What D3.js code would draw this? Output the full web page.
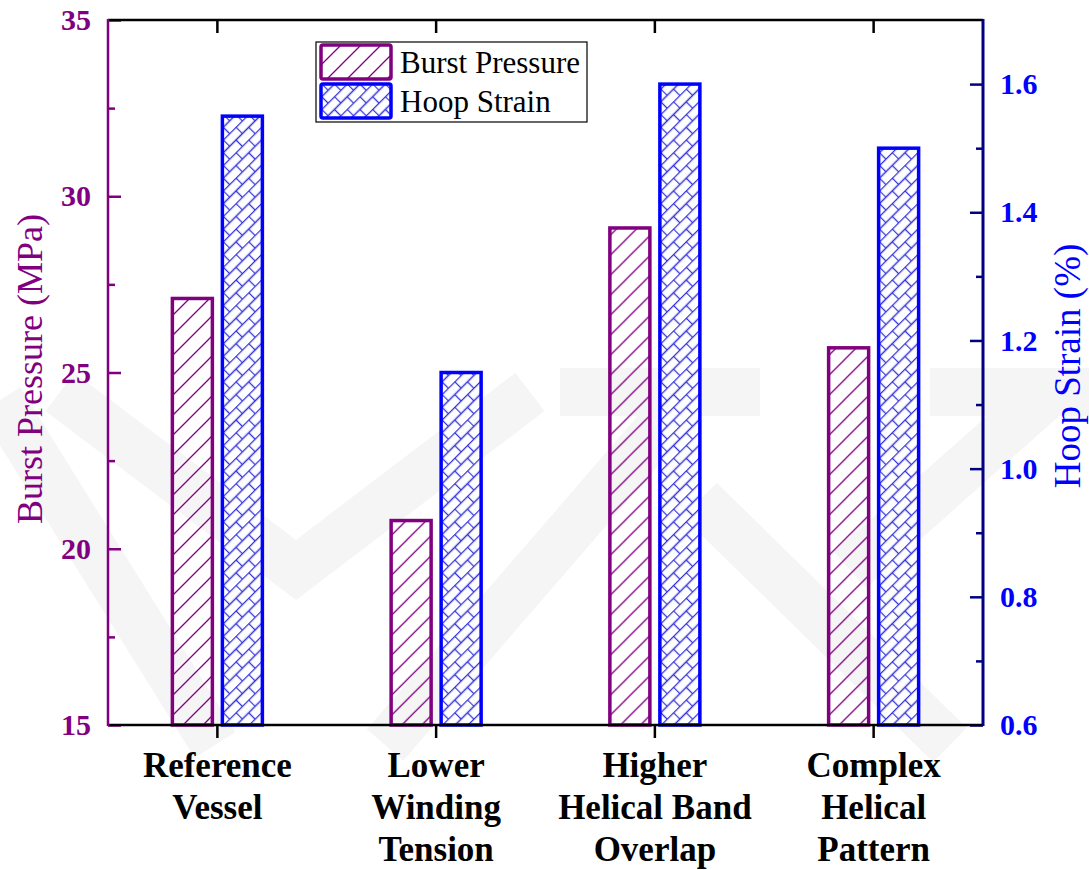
<!DOCTYPE html>
<html>
<head>
<meta charset="utf-8">
<script src="https://cdn.jsdelivr.net/npm/d3@7"></script>
<style>
body { margin: 0; background: #fff; }
svg { display: block; font-family: "Liberation Serif", "Times New Roman", serif; }
</style>
</head>
<body>
<svg id="chart" width="1089" height="870"></svg>
<script>
// data
var categories = [['Reference', 'Vessel'], ['Lower', 'Winding', 'Tension'], ['Higher', 'Helical Band', 'Overlap'], ['Complex', 'Helical', 'Pattern']]
var burst_pressure = [27.1, 20.8, 29.1, 25.7]
var hoop_strain = [1.55, 1.15, 1.6, 1.5]
var series = ['Burst Pressure', 'Hoop Strain']
var left_ticks = [15, 20, 25, 30, 35]
var right_ticks = [0.6, 0.8, 1.0, 1.2, 1.4, 1.6]

var PURPLE = '#800080', BLUE = '#0000ff', NAVY = '#000080'
var margin = {left: 108, right: 106, top: 20, bottom: 145}
var W = 1089, H = 870
var svg = d3.select('#chart')

// faint watermark in the background
svg.append('path')
	.attr('d', 'M0,400L215,745 M60,392L296,570L530,392 M385,745L690,392 M560,392L760,392 M700,500L950,745 M850,570L1050,392 M930,392L1089,392')
	.attr('fill', 'none').attr('stroke', '#f5f5f5').attr('stroke-width', 48)

var x0 = d3.scaleBand().domain(d3.range(categories.length)).range([margin.left, W - margin.right])
var x1 = d3.scaleBand().domain(series).range([x0.bandwidth() / 2 - 45, x0.bandwidth() / 2 + 45]).paddingInner(0.2)
var yl = d3.scaleLinear().domain([15, 35]).range([H - margin.bottom, margin.top])
var yr = d3.scaleLinear().domain([0.6, 1.7]).range([H - margin.bottom, margin.top])

var defs = svg.append('defs')
var p1 = defs.append('pattern').attr('id', 'hatch-burst').attr('patternUnits', 'userSpaceOnUse')
	.attr('width', 20).attr('height', 20)
p1.append('path').attr('d', 'M0,20L20,0 M-5,5L5,-5 M15,25L25,15')
	.attr('stroke', PURPLE).attr('stroke-width', 1.3)
var p2 = defs.append('pattern').attr('id', 'hatch-hoop').attr('patternUnits', 'userSpaceOnUse')
	.attr('width', 18).attr('height', 18).attr('patternTransform', 'rotate(-45)')
p2.append('rect').attr('width', 18).attr('height', 18).attr('fill', '#fff')
p2.append('path').attr('d', 'M0,0.5L18,0.5 M0,9.5L18,9.5 M0.5,0L0.5,9 M9.5,9L9.5,18')
	.attr('stroke', '#3434d8').attr('stroke-width', 1.3)

var groups = svg.selectAll('g.cat').data(categories).enter().append('g')
	.attr('class', 'cat')
	.attr('transform', function(d, i) { return 'translate(' + x0(i) + ',0)' })
groups.append('rect')
	.attr('x', x1('Burst Pressure')).attr('width', x1.bandwidth())
	.attr('y', function(d, i) { return yl(burst_pressure[i]) })
	.attr('height', function(d, i) { return yl(15) - yl(burst_pressure[i]) })
	.attr('fill', 'url(#hatch-burst)').attr('stroke', PURPLE).attr('stroke-width', 3.5)
groups.append('rect')
	.attr('x', x1('Hoop Strain')).attr('width', x1.bandwidth())
	.attr('y', function(d, i) { return yr(hoop_strain[i]) })
	.attr('height', function(d, i) { return yr(0.6) - yr(hoop_strain[i]) })
	.attr('fill', 'url(#hatch-hoop)').attr('stroke', BLUE).attr('stroke-width', 3.5)

// axes
function style_axis(g, color, size, label_color)
{
	g.select('.domain').remove()
	g.selectAll('line').attr('stroke', color).attr('stroke-width', 2.5)
	g.selectAll('text').attr('fill', label_color).attr('font-size', size).attr('font-weight', 'bold')
		.attr('font-family', '"Liberation Serif", "Times New Roman", serif')
}
var minor_l = d3.range(17.5, 35, 5), minor_r = d3.range(0.7, 1.7, 0.2)

svg.append('g').attr('transform', 'translate(' + margin.left + ',0)')
	.call(d3.axisRight(yl).tickValues(minor_l).tickSize(7).tickFormat(''))
	.call(style_axis, PURPLE, 30, PURPLE)
svg.append('g').attr('transform', 'translate(' + margin.left + ',0)')
	.call(d3.axisLeft(yl).tickValues(left_ticks).tickSize(-13).tickPadding(17).tickFormat(d3.format('d')))
	.call(style_axis, PURPLE, 30, PURPLE)
svg.append('g').attr('transform', 'translate(' + (W - margin.right) + ',0)')
	.call(d3.axisLeft(yr).tickValues(minor_r).tickSize(7).tickFormat(''))
	.call(style_axis, NAVY, 30, BLUE)
svg.append('g').attr('transform', 'translate(' + (W - margin.right) + ',0)')
	.call(d3.axisRight(yr).tickValues(right_ticks).tickSize(-13).tickPadding(17).tickFormat(d3.format('.1f')))
	.call(style_axis, NAVY, 30, BLUE)

svg.append('g').attr('transform', 'translate(0,' + (H - margin.bottom) + ')')
	.call(d3.axisBottom(x0).tickSize(13).tickFormat(''))
	.call(style_axis, '#000', 33, '#000')
svg.append('g').attr('transform', 'translate(0,' + margin.top + ')')
	.call(d3.axisBottom(x0).tickSize(13).tickFormat(''))
	.call(style_axis, '#000', 33, '#000')

// category labels, multi-line
var lab = svg.append('g').selectAll('text').data(categories).enter().append('text')
	.attr('x', function(d, i) { return x0(i) + x0.bandwidth() / 2 })
	.attr('y', H - margin.bottom + 52)
	.attr('text-anchor', 'middle').attr('font-size', 35).attr('font-weight', 'bold').attr('fill', '#000')
lab.selectAll('tspan').data(function(d) { return d }).enter().append('tspan')
	.attr('x', function() { return d3.select(this.parentNode).attr('x') })
	.attr('dy', function(d, i) { return i ? 42 : 0 })
	.text(function(d) { return d })

// frame lines
svg.append('line').attr('x1', margin.left).attr('x2', W - margin.right).attr('y1', margin.top).attr('y2', margin.top)
	.attr('stroke', '#000').attr('stroke-width', 2.5)
svg.append('line').attr('x1', margin.left).attr('x2', W - margin.right).attr('y1', H - margin.bottom).attr('y2', H - margin.bottom)
	.attr('stroke', '#000').attr('stroke-width', 2.5)
svg.append('line').attr('x1', margin.left).attr('x2', margin.left).attr('y1', margin.top - 1).attr('y2', H - margin.bottom + 1)
	.attr('stroke', PURPLE).attr('stroke-width', 2.5)
svg.append('line').attr('x1', W - margin.right).attr('x2', W - margin.right).attr('y1', margin.top - 1).attr('y2', H - margin.bottom + 1)
	.attr('stroke', NAVY).attr('stroke-width', 3)

// axis titles
svg.append('text').attr('transform', 'translate(42,369) rotate(-90)')
	.attr('text-anchor', 'middle').attr('font-size', 36).attr('fill', PURPLE)
	.text('Burst Pressure (MPa)')
svg.append('text').attr('transform', 'translate(1080,366) rotate(-90)')
	.attr('text-anchor', 'middle').attr('font-size', 37).attr('fill', BLUE)
	.text('Hoop Strain (%)')

// legend
var legend = svg.append('g').attr('transform', 'translate(316,42)')
legend.append('rect').attr('width', 271).attr('height', 80).attr('fill', '#fff').attr('stroke', '#000').attr('stroke-width', 1.2)
var fills = ['url(#hatch-burst)', 'url(#hatch-hoop)'], strokes = [PURPLE, BLUE]
var item = legend.selectAll('g').data(series).enter().append('g')
	.attr('transform', function(d, i) { return 'translate(5,' + (3 + i * 39) + ')' })
item.append('rect').attr('width', 70).attr('height', 34).attr('rx', 2)
	.attr('fill', function(d, i) { return fills[i] }).attr('stroke', function(d, i) { return strokes[i] }).attr('stroke-width', 3.5)
item.append('text').attr('x', 79).attr('y', 28).attr('font-size', 31).attr('fill', '#000')
	.text(function(d) { return d })
</script>
</body>
</html>
